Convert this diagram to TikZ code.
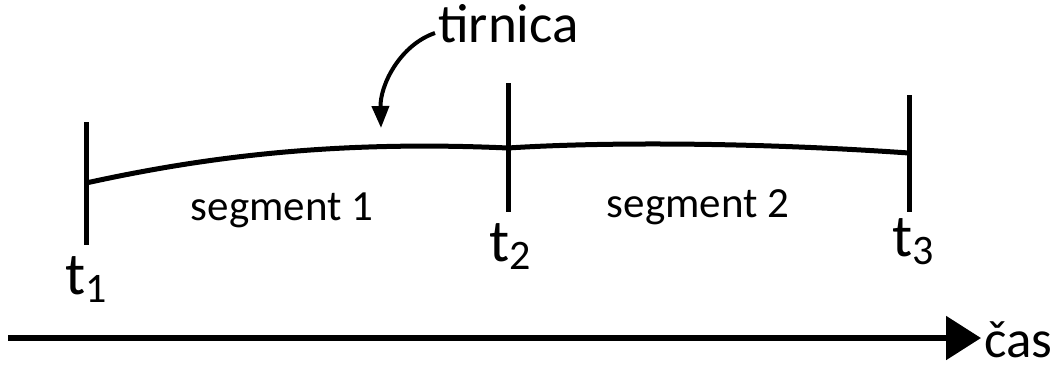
\documentclass[tikz,border=0pt]{standalone}
\usepackage{fontspec}
\setmainfont{Carlito}
\usetikzlibrary{arrows.meta}
\newcommand{\tsub}[1]{t\raisebox{-8pt}{\fontsize{42}{42}\selectfont #1}}
\begin{document}
\begin{tikzpicture}[x=1pt,y=-1pt,
  tick/.style={line width=5pt},
  track/.style={line width=5pt},
  lbl/.style={inner sep=0pt, font=\fontsize{43}{50}\selectfont},
  tlbl/.style={inner sep=0pt, font=\fontsize{60}{66}\selectfont},
  big/.style={inner sep=0pt, font=\fontsize{55}{64}\selectfont}]
\useasboundingbox (0,0) rectangle (1059,365);
% ticks
\coordinate (a1) at (86,122);
\coordinate (b1) at (86,245);
\coordinate (a2) at (508,83);
\coordinate (b2) at (508,212);
\coordinate (a3) at (909,95);
\coordinate (b3) at (909,212);
\coordinate (p1) at (86,183);
\coordinate (p2) at (508,148);
\coordinate (p3) at (909,153);
\draw[tick] (a1) -- (b1);
\draw[tick] (a2) -- (b2);
\draw[tick] (a3) -- (b3);
% track
\draw[track] (p1) .. controls (200,158) and (330,140) .. (p2);
\draw[track] (p2) .. controls (600,142) and (750,142) .. (p3);
% labels
\node[lbl] (s1) at (282,210) {segment 1};
\node[lbl] (s2) at (698,207) {segment 2};
\node[tlbl,anchor=base] (t1) at (86,294) {\tsub{1}};
\node[tlbl,anchor=base] (t2) at (510,261) {\tsub{2}};
\node[tlbl,anchor=base] (t3) at (913,256) {\tsub{3}};
\node[big,anchor=base west] (tir) at (438,42) {tirnica};
\coordinate (arrstart) at (435,33);
\coordinate (tipc) at (381,128);
\draw[line width=4pt,-{Triangle[length=22pt,width=17pt]}] (arrstart) .. controls (400,45) and (380,85) .. (tipc);
% time axis
\node[big,anchor=base west,font=\fontsize{53}{60}\selectfont] (cas) at (984,357) {čas};
\coordinate (start) at (8,338);
\coordinate (tip) at (981,338);
\draw[line width=5.5pt,-{Triangle[length=35pt,width=43pt]}] (start) -- (tip);
\end{tikzpicture}
\end{document}
